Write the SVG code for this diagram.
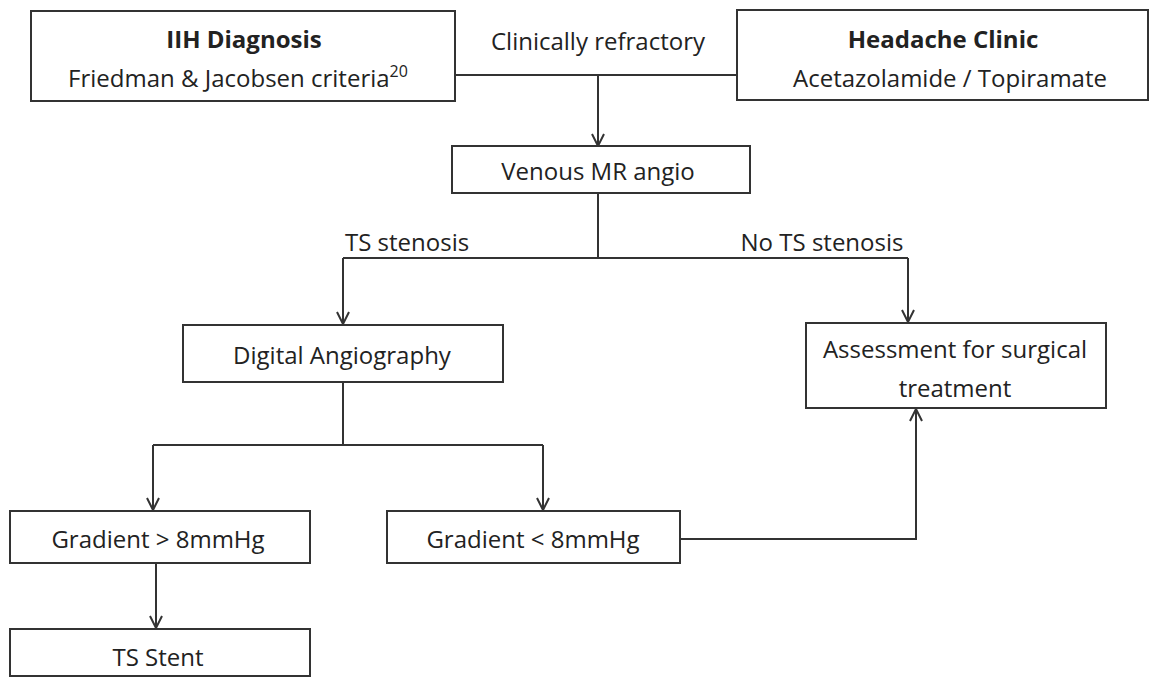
<svg xmlns="http://www.w3.org/2000/svg" width="1155" height="679" viewBox="0 0 1155 679">
<style>
.box{fill:#fff;stroke:#333;stroke-width:2}
.t{font-family:"Open Sans",Lato,"Liberation Sans",sans-serif;font-size:24px;fill:#222;text-anchor:middle}
.b{font-weight:bold}
.l{text-anchor:start}
.c{fill:none;stroke:#333;stroke-width:2}
</style>
<defs>
<marker id="ah" viewBox="0 0 14 14" refX="13" refY="7" markerWidth="14" markerHeight="14" markerUnits="userSpaceOnUse" orient="auto">
<path d="M1,1 L13,7 L1,13" fill="none" stroke="#333" stroke-width="2"/>
</marker>
</defs>
<rect width="1155" height="679" fill="#fff"/>
<g id="connectors">
<path class="c" d="M455,75 H737"/>
<path class="c" d="M598,75 V146" marker-end="url(#ah)"/>
<path class="c" d="M598,193 V258"/>
<path class="c" d="M343,258 H908"/>
<path class="c" d="M343,258 V324" marker-end="url(#ah)"/>
<path class="c" d="M908,258 V322" marker-end="url(#ah)"/>
<path class="c" d="M343,382 V445"/>
<path class="c" d="M153,445 H543"/>
<path class="c" d="M153,445 V510" marker-end="url(#ah)"/>
<path class="c" d="M543,445 V510" marker-end="url(#ah)"/>
<path class="c" d="M156,563 V628" marker-end="url(#ah)"/>
<path class="c" d="M680,539 H916 V409" marker-end="url(#ah)"/>
<text class="t" x="598" y="50">Clinically refractory</text>
<text class="t l" x="345" y="251">TS stenosis</text>
<text class="t" x="822" y="251">No TS stenosis</text>
</g>
<g id="iih">
<rect class="box" x="31" y="11" width="424" height="90"/>
<text class="t b" x="244" y="48">IIH Diagnosis</text>
<text class="t" x="238" y="87">Friedman &amp; Jacobsen criteria<tspan font-size="16" dy="-10">20</tspan></text>
</g>
<g id="headache">
<rect class="box" x="737" y="10" width="411" height="90"/>
<text class="t b" x="943" y="48">Headache Clinic</text>
<text class="t" x="950" y="87">Acetazolamide / Topiramate</text>
</g>
<g id="venous">
<rect class="box" x="452" y="146" width="298" height="47"/>
<text class="t" x="598" y="180">Venous MR angio</text>
</g>
<g id="digital">
<rect class="box" x="183" y="325" width="320" height="57"/>
<text class="t" x="342" y="364">Digital Angiography</text>
</g>
<g id="assessment">
<rect class="box" x="806" y="323" width="300" height="85"/>
<text class="t" x="955" y="358">Assessment for surgical</text>
<text class="t" x="955" y="397">treatment</text>
</g>
<g id="grad-high">
<rect class="box" x="10" y="511" width="300" height="52"/>
<text class="t" x="158" y="548">Gradient &gt; 8mmHg</text>
</g>
<g id="grad-low">
<rect class="box" x="387" y="511" width="293" height="52"/>
<text class="t" x="533" y="548">Gradient &lt; 8mmHg</text>
</g>
<g id="stent">
<rect class="box" x="10" y="629" width="300" height="47"/>
<text class="t" x="158" y="666">TS Stent</text>
</g>
</svg>
